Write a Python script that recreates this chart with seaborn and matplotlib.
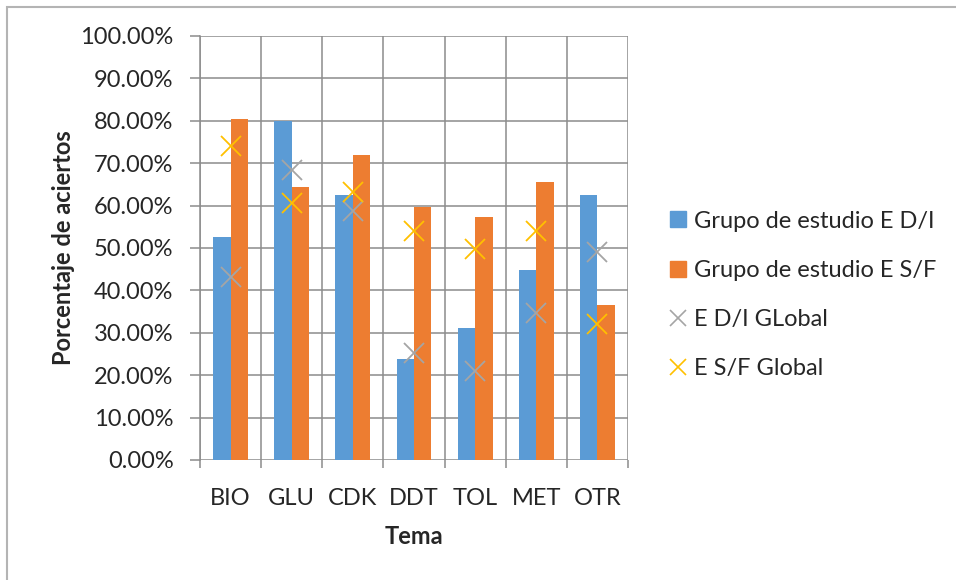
import numpy as np
import pandas as pd
import seaborn as sns
import matplotlib.pyplot as plt
from matplotlib.lines import Line2D
from matplotlib.ticker import PercentFormatter, FixedLocator

## Datos (porcentaje de aciertos por tema)
temas = ["BIO", "GLU", "CDK", "DDT", "TOL", "MET", "OTR"]
grupo_ed = [52.5, 80.0, 62.5, 23.9, 31.2, 44.9, 62.5]
grupo_sf = [80.5, 64.3, 72.0, 59.6, 57.2, 65.5, 36.5]
global_ed = [43.1, 68.3, 58.7, 25.2, 21.1, 34.6, 49.0]
global_sf = [74.0, 60.5, 63.1, 54.0, 49.8, 53.9, 32.1]
series = ["Grupo de estudio E D/I", "Grupo de estudio E S/F"]

sns.set_style("white")
plt.rcParams["font.family"] = ["Lato", "DejaVu Sans"]

azul = "#5B9BD5"
naranja = "#ED7D31"
gris = "#A5A5A5"
amarillo = "#FFC000"
rejilla = "#8C8C8C"

## Tabla larga para el barplot
df = pd.DataFrame({
    "Tema": temas * 2,
    "valor": grupo_ed + grupo_sf,
    "serie": [series[0]] * len(temas) + [series[1]] * len(temas),
})

fig = plt.figure(figsize=(9.56, 5.8), dpi=100)
ax = fig.add_axes([200 / 956, 1 - 460 / 580, 428 / 956, 424 / 580])

sns.barplot(data=df, x="Tema", y="valor", hue="serie", order=temas,
            palette=[azul, naranja], width=0.57, saturation=1,
            edgecolor="none", legend=False, ax=ax, zorder=3)

# marcadores X de los valores globales
sns.pointplot(x=temas, y=global_ed, order=temas, linestyle="none", markers="x",
              color=gris, markersize=14, markeredgewidth=1.3, errorbar=None, ax=ax)
sns.pointplot(x=temas, y=global_sf, order=temas, linestyle="none", markers="x",
              color=amarillo, markersize=14, markeredgewidth=1.3, errorbar=None, ax=ax)
for ln in ax.lines:
    ln.set_zorder(5)

ax.set_xlim(-0.5, len(temas) - 0.5)
ax.set_ylim(0, 100)
ax.set_yticks(np.arange(0, 101, 10))
ax.yaxis.set_major_formatter(PercentFormatter(xmax=100, decimals=2))
ax.set_xticks(range(len(temas)))
ax.set_xticklabels(temas)
ax.xaxis.set_minor_locator(FixedLocator(np.arange(-0.5, len(temas), 1)))

ax.grid(False)
ax.yaxis.grid(True, which="major", color=rejilla, lw=1.1, zorder=0)
ax.xaxis.grid(True, which="minor", color=rejilla, lw=1.1, zorder=0)
ax.set_axisbelow(True)
for s in ["top", "right", "bottom"]:
    ax.spines[s].set_visible(False)
ax.spines["left"].set_color(rejilla)
ax.spines["left"].set_linewidth(1.1)

ax.tick_params(axis="y", which="major", left=True, length=7, width=1.1, color=rejilla,
               labelsize=17, pad=12)
ax.tick_params(axis="x", which="major", bottom=False, labelsize=17, pad=17)
ax.tick_params(axis="x", which="minor", bottom=True, length=6, width=1.1, color=rejilla)

ax.set_xlabel("Tema", fontsize=17, fontweight="bold", labelpad=11)
ax.set_ylabel("Porcentaje de aciertos", fontsize=17, fontweight="bold", labelpad=4)

handles = [
    Line2D([], [], linestyle="none", marker="s", markersize=11, color=azul),
    Line2D([], [], linestyle="none", marker="s", markersize=11, color=naranja),
    Line2D([], [], linestyle="none", marker="x", markersize=11, markeredgewidth=1.2, color=gris),
    Line2D([], [], linestyle="none", marker="x", markersize=11, markeredgewidth=1.2, color=amarillo),
]
etiquetas = series + ["E D/I GLobal", "E S/F Global"]
fig.legend(handles, etiquetas, loc="center left", bbox_to_anchor=(657 / 956, 1 - 295 / 580),
           frameon=False, fontsize=17, borderpad=0, handlelength=0.8, handletextpad=0.25,
           labelspacing=1.2)

# borde del area del grafico
fig.add_artist(plt.Rectangle((7 / 956, -0.05), 1.1, 1 - 7 / 580 + 0.05,
                             transform=fig.transFigure, fill=False,
                             edgecolor="#B4B4B4", lw=1.5))

fig.savefig("out.png", dpi=100)
